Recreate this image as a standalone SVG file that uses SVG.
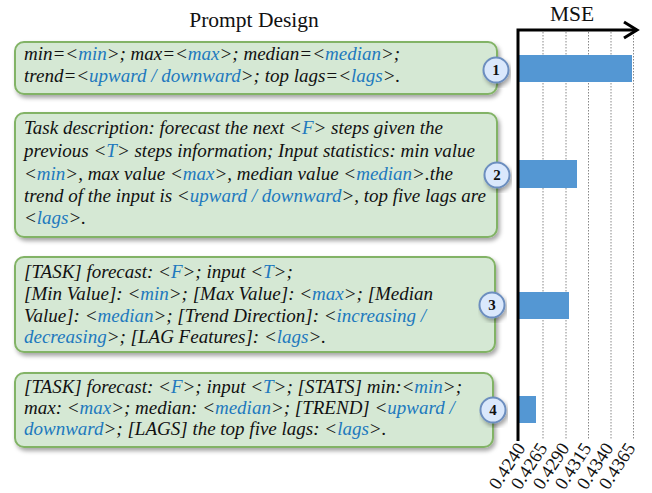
<svg xmlns="http://www.w3.org/2000/svg" width="652" height="493" viewBox="0 0 652 493">
<style>
.box{fill:#d5e8d4;stroke:#82b366;stroke-width:2}
.t{font-family:"Liberation Serif",serif;font-style:italic;font-size:19px;fill:#111}
.v{fill:#2179be}
.num{fill:#dae8fc;stroke:#6c8ebf;stroke-width:2}
.nt{font-family:"Liberation Serif",serif;font-weight:bold;font-size:15px;fill:#111;text-anchor:middle}
.bar{fill:#5497d3}
.grid{stroke:#888;stroke-width:1;stroke-dasharray:1.5,1.5}
.tick{font-family:"Liberation Serif",serif;font-size:18.5px;fill:#111;text-anchor:end}
.title{font-family:"Liberation Serif",serif;font-size:21.5px;fill:#111;text-anchor:middle}
</style>
<defs>
<filter id="sh" x="-5%" y="-10%" width="115%" height="130%">
<feDropShadow dx="2" dy="3" stdDeviation="2" flood-color="#000" flood-opacity="0.35"/>
</filter>
</defs>
<rect width="652" height="493" fill="#fff"/>
<text class="title" x="254" y="27">Prompt Design</text>
<text class="title" x="572" y="21">MSE</text>

<g id="chart">
<line class="grid" x1="543" y1="32" x2="543" y2="440"/>
<line class="grid" x1="566" y1="32" x2="566" y2="440"/>
<line class="grid" x1="588.5" y1="32" x2="588.5" y2="440"/>
<line class="grid" x1="611" y1="32" x2="611" y2="440"/>
<line class="grid" x1="633.5" y1="32" x2="633.5" y2="440"/>
<rect class="bar" x="518" y="55" width="114" height="27"/>
<rect class="bar" x="518" y="160" width="59" height="28"/>
<rect class="bar" x="518" y="292" width="51" height="27"/>
<rect class="bar" x="518" y="396" width="18" height="27"/>
<path d="M518,441 V30 H637" fill="none" stroke="#000" stroke-width="3"/>
<path d="M624,22 L637,30 L624,38" fill="none" stroke="#000" stroke-width="3"/>
<text class="tick" transform="translate(526,448) rotate(-57)">0.4240</text>
<text class="tick" transform="translate(548,448) rotate(-57)">0.4265</text>
<text class="tick" transform="translate(570,448) rotate(-57)">0.4290</text>
<text class="tick" transform="translate(592,448) rotate(-57)">0.4315</text>
<text class="tick" transform="translate(614,448) rotate(-57)">0.4340</text>
<text class="tick" transform="translate(636,448) rotate(-57)">0.4365</text>
</g>

<g id="node1">
<rect class="box" filter="url(#sh)" x="15" y="42" width="482" height="52" rx="9"/>
<text class="t" x="24" y="60">min=&lt;<tspan class="v">min</tspan>&gt;; max=&lt;<tspan class="v">max</tspan>&gt;; median=&lt;<tspan class="v">median</tspan>&gt;;</text>
<text class="t" x="24" y="82">trend=&lt;<tspan class="v">upward / downward</tspan>&gt;; top lags=&lt;<tspan class="v">lags</tspan>&gt;.</text>
<circle class="num" filter="url(#sh)" cx="496" cy="70" r="12.5"/>
<text class="nt" x="496" y="75">1</text>
</g>

<g id="node2">
<rect class="box" filter="url(#sh)" x="15" y="113" width="482" height="124" rx="9"/>
<text class="t" x="24" y="134">Task description: forecast the next &lt;<tspan class="v">F</tspan>&gt; steps given the</text>
<text class="t" x="24" y="157">previous &lt;<tspan class="v">T</tspan>&gt; steps information; Input statistics: min value</text>
<text class="t" x="24" y="180">&lt;<tspan class="v">min</tspan>&gt;, max value &lt;<tspan class="v">max</tspan>&gt;, median value &lt;<tspan class="v">median</tspan>&gt;.the</text>
<text class="t" x="24" y="202">trend of the input is &lt;<tspan class="v">upward / downward</tspan>&gt;, top five lags are</text>
<text class="t" x="24" y="224">&lt;<tspan class="v">lags</tspan>&gt;.</text>
<circle class="num" filter="url(#sh)" cx="497" cy="175" r="12.5"/>
<text class="nt" x="497" y="180">2</text>
</g>

<g id="node3">
<rect class="box" filter="url(#sh)" x="15" y="257" width="480" height="95" rx="9"/>
<text class="t" x="24" y="278">[TASK] forecast: &lt;<tspan class="v">F</tspan>&gt;; input &lt;<tspan class="v">T</tspan>&gt;;</text>
<text class="t" x="24" y="300">[Min Value]: &lt;<tspan class="v">min</tspan>&gt;; [Max Value]: &lt;<tspan class="v">max</tspan>&gt;; [Median</text>
<text class="t" x="24" y="322">Value]: &lt;<tspan class="v">median</tspan>&gt;; [Trend Direction]: &lt;<tspan class="v">increasing /</tspan></text>
<text class="t" x="24" y="343"><tspan class="v">decreasing</tspan>&gt;; [LAG Features]: &lt;<tspan class="v">lags</tspan>&gt;.</text>
<circle class="num" filter="url(#sh)" cx="492" cy="305" r="12.5"/>
<text class="nt" x="492" y="310">3</text>
</g>

<g id="node4">
<rect class="box" filter="url(#sh)" x="15" y="373" width="478" height="74" rx="9"/>
<text class="t" x="24" y="393">[TASK] forecast: &lt;<tspan class="v">F</tspan>&gt;; input &lt;<tspan class="v">T</tspan>&gt;; [STATS] min:&lt;<tspan class="v">min</tspan>&gt;;</text>
<text class="t" x="24" y="414">max: &lt;<tspan class="v">max</tspan>&gt;; median: &lt;<tspan class="v">median</tspan>&gt;; [TREND] &lt;<tspan class="v">upward /</tspan></text>
<text class="t" x="24" y="435"><tspan class="v">downward</tspan>&gt;; [LAGS] the top five lags: &lt;<tspan class="v">lags</tspan>&gt;.</text>
<circle class="num" filter="url(#sh)" cx="493" cy="410" r="12.5"/>
<text class="nt" x="493" y="415">4</text>
</g>
</svg>
